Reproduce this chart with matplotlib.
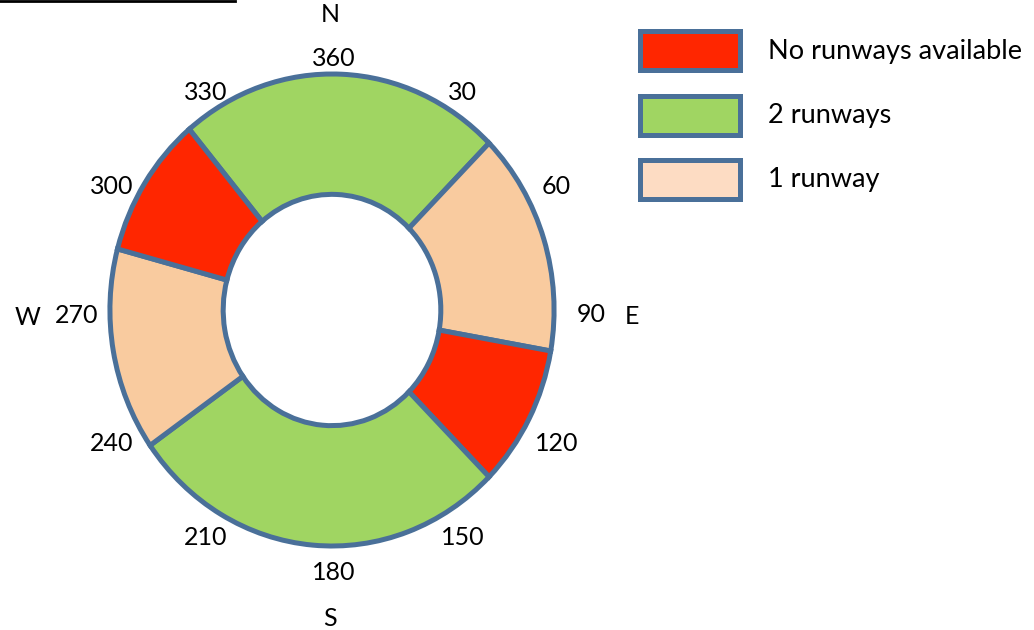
import matplotlib
matplotlib.use("Agg")
import numpy as np
import matplotlib.pyplot as plt
from matplotlib.patches import Wedge, Rectangle
from matplotlib.lines import Line2D

plt.rcParams["font.family"] = ["Lato", "DejaVu Sans"]

# Runway availability by wind bearing (degrees, clockwise from north)
seg_start = [320, 45, 100, 135, 235, 285]
seg_end = [45, 100, 135, 235, 285, 320]
seg_status = ["2 runways", "1 runway", "No runways available",
              "2 runways", "1 runway", "No runways available"]

legend_labels = ["No runways available", "2 runways", "1 runway"]
bearing_ticks = [360, 30, 60, 90, 120, 150, 180, 210, 240, 270, 300, 330]
compass_letters = ["N", "E", "S", "W"]
compass_bearings = [0, 90, 180, 270]

ring_colors = {"No runways available": "#ff2600",
               "2 runways": "#a0d562",
               "1 runway": "#f9cb9f"}
legend_colors = {"No runways available": "#ff2600",
                 "2 runways": "#a0d562",
                 "1 runway": "#fddcc3"}
edge = "#4a7099"

W, H = 1034, 630
fig = plt.figure(figsize=(W / 100, H / 100), dpi=100)

# ring axes: unit radius maps to ~222 px across, ~236 px tall
PX_X, PX_Y = 222.0, 236.0
ax = fig.add_axes([10 / W, 13.2 / H, 644 / W, 613.6 / H])
ax.set_xlim(-1.45, 1.45)
ax.set_ylim(-1.3, 1.3)
ax.axis("off")

for b1, b2, status in zip(seg_start, seg_end, seg_status):
    t1 = 90 - b2
    t2 = 90 - b1
    if t2 < t1:
        t2 += 360
    ax.add_patch(Wedge((0, 0), 1.0, t1, t2, width=0.51,
                       facecolor=ring_colors[status], edgecolor=edge,
                       linewidth=3.6, joinstyle="miter"))


def place(b, r_px, dx_px=2, dy_px=-5):
    """Point at bearing b on a circle of r_px pixels round the ring centre."""
    rad = np.deg2rad(b)
    return (r_px * np.sin(rad) + dx_px) / PX_X, (r_px * np.cos(rad) + dy_px) / PX_Y


for b in bearing_ticks:
    x, y = place(b, 257)
    ax.text(x, y, str(b), ha="center", va="center", fontsize=18, color="black")

for letter, b in zip(compass_letters, compass_bearings):
    x, y = place(b, 302, dx_px=-2, dy_px=-7)
    ax.text(x, y, letter, ha="center", va="center", fontsize=18, color="black")

# legend drawn as boxes in pixel space
lax = fig.add_axes([0, 0, 1, 1])
lax.set_xlim(0, W)
lax.set_ylim(H, 0)
lax.axis("off")
for i, lab in enumerate(legend_labels):
    y0 = 31 + i * 64.5
    lax.add_patch(Rectangle((640, y0), 100, 39, facecolor=legend_colors[lab],
                            edgecolor=edge, linewidth=3.6))
    lax.text(768, y0 + 20, lab, ha="left", va="center", fontsize=19.5, color="black")

fig.add_artist(Line2D([0, 235 / W], [1 - 1.3 / H, 1 - 1.3 / H],
                      color="black", linewidth=2, transform=fig.transFigure))

fig.savefig("out.png", dpi=100, facecolor="white")
